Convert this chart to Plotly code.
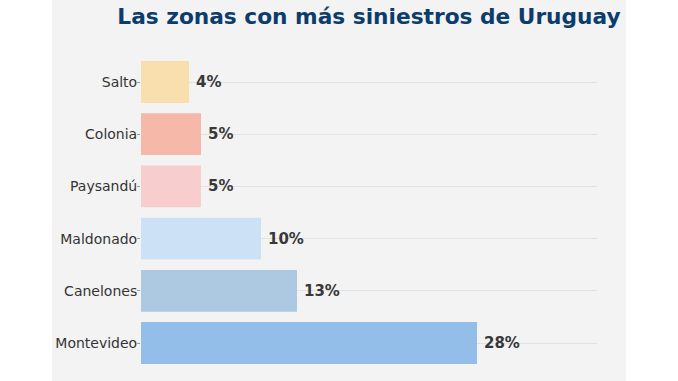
import plotly.graph_objects as go

categories = ["Montevideo", "Canelones", "Maldonado", "Paysandú", "Colonia", "Salto"]
values = [28, 13, 10, 5, 5, 4]
labels = ["28%", "13%", "10%", "5%", "5%", "4%"]
colors = ["#93beea", "#adc9e1", "#cce1f6", "#f7cdcd", "#f5b8a9", "#f8dfad"]

W, H = 678, 381
L, R, T, B = 141, 81, 30, 6
pw, ph = W - L - R, H - T - B

fig = go.Figure()
fig.add_trace(go.Bar(
    x=values, y=categories, orientation="h",
    marker=dict(color=colors, line=dict(width=0)),
    width=0.8, hoverinfo="skip", showlegend=False,
))

for c, v, t in zip(categories, values, labels):
    fig.add_annotation(x=v, y=c, text="<b>" + t + "</b>", showarrow=False, xanchor="left",
                       yanchor="middle", xshift=5,
                       font=dict(family="DejaVu Sans", size=15, color="#383838"))

def px_x(p):
    return (p - L) / pw

def px_y(p):
    return (H - B - p) / ph

fig.add_shape(type="rect", xref="paper", yref="paper", layer="below",
              x0=px_x(52), x1=px_x(626), y0=px_y(H + 2), y1=px_y(-2),
              fillcolor="#f3f3f3", line=dict(width=0))

fig.update_layout(
    width=W, height=H,
    margin=dict(l=L, r=R, t=T, b=B, autoexpand=False),
    paper_bgcolor="white", plot_bgcolor="rgba(0,0,0,0)",
    font=dict(family="DejaVu Sans", color="#333333"),
    title=dict(text="<b>Las zonas con más siniestros de Uruguay</b>", x=0.5, xref="paper",
               xanchor="center", y=1 - 16 / H, yref="container", yanchor="middle",
               font=dict(family="DejaVu Sans", size=21.7, color="#0b3c6b")),
    bargap=0.2,
)
fig.update_xaxes(range=[0, 38], visible=False, fixedrange=True)
fig.update_yaxes(
    range=[-(375 - 343) / 52.2, 5 + (82 - 30) / 52.2],
    showgrid=True, gridcolor="#e2e2e2", gridwidth=1,
    ticks="outside", ticklen=3, tickcolor="#999999", tickwidth=1,
    ticklabelstandoff=-3,
    tickfont=dict(family="DejaVu Sans", size=14, color="#333333"),
    showline=False, zeroline=False, fixedrange=True,
)
fig.write_html("out.html", config={"displayModeBar": False},
               post_script="document.body.style.margin='0';document.body.style.padding='0';")
